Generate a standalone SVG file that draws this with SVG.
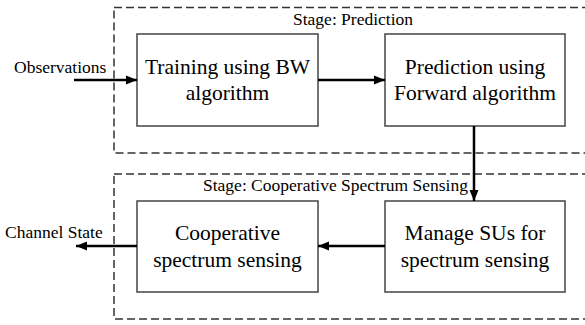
<svg xmlns="http://www.w3.org/2000/svg" width="585" height="325" viewBox="0 0 585 325">
<style>
.stage{fill:none;stroke:#333;stroke-width:1.5;stroke-dasharray:8 4}
.box{fill:#fff;stroke:#444;stroke-width:1.5}
text{font-family:'Liberation Serif','Times New Roman',Tinos,'DejaVu Serif',serif;fill:#000}
.bt{font-size:21.5px;text-anchor:middle}
.lt{font-size:17.5px}
.conn{stroke:#000;stroke-width:2.5;fill:none;marker-end:url(#ah)}
</style>
<defs>
<marker id="ah" markerUnits="userSpaceOnUse" markerWidth="12" markerHeight="12" viewBox="0 0 12 12" refX="11" refY="6" orient="auto">
<path d="M0,1.5 L11,6 L0,10.5 Z" fill="#000"/>
</marker>
</defs>
<rect width="585" height="325" fill="#fff"/>
<g id="stage-prediction">
<rect class="stage" x="114" y="7.5" width="490" height="145.5"/>
<text class="lt" x="293" y="25" font-family="Liberation Serif, serif">Stage: Prediction</text>
</g>
<g id="stage-css">
<rect class="stage" x="114" y="174" width="490" height="145"/>
<text class="lt" x="203" y="191" font-family="Liberation Serif, serif">Stage: Cooperative Spectrum Sensing</text>
</g>
<g id="training">
<rect class="box" x="137" y="34" width="181" height="92"/>
<text class="bt" x="227.5" y="74" font-family="Liberation Serif, serif">Training using BW</text>
<text class="bt" x="227.5" y="100" font-family="Liberation Serif, serif">algorithm</text>
</g>
<g id="prediction">
<rect class="box" x="385" y="34" width="180" height="92"/>
<text class="bt" x="475" y="74" font-family="Liberation Serif, serif">Prediction using</text>
<text class="bt" x="475" y="100" font-family="Liberation Serif, serif">Forward algorithm</text>
</g>
<g id="manage">
<rect class="box" x="385" y="201" width="180" height="91"/>
<text class="bt" x="475" y="240" font-family="Liberation Serif, serif">Manage SUs for</text>
<text class="bt" x="475" y="267" font-family="Liberation Serif, serif">spectrum sensing</text>
</g>
<g id="cooperative">
<rect class="box" x="137" y="201" width="181" height="91"/>
<text class="bt" x="227.5" y="240" font-family="Liberation Serif, serif">Cooperative</text>
<text class="bt" x="227.5" y="267" font-family="Liberation Serif, serif">spectrum sensing</text>
</g>
<g id="observations">
<text class="lt" x="14" y="73" font-family="Liberation Serif, serif">Observations</text>
</g>
<g id="channel-state">
<text class="lt" x="5" y="238" font-family="Liberation Serif, serif">Channel State</text>
</g>
<g id="connectors">
<line class="conn" x1="74" y1="80" x2="137" y2="80"/>
<line class="conn" x1="318" y1="80" x2="385" y2="80"/>
<line class="conn" x1="474" y1="126" x2="474" y2="201"/>
<line class="conn" x1="385" y1="246" x2="318" y2="246"/>
<line class="conn" x1="137" y1="246" x2="76" y2="246"/>
</g>
</svg>
